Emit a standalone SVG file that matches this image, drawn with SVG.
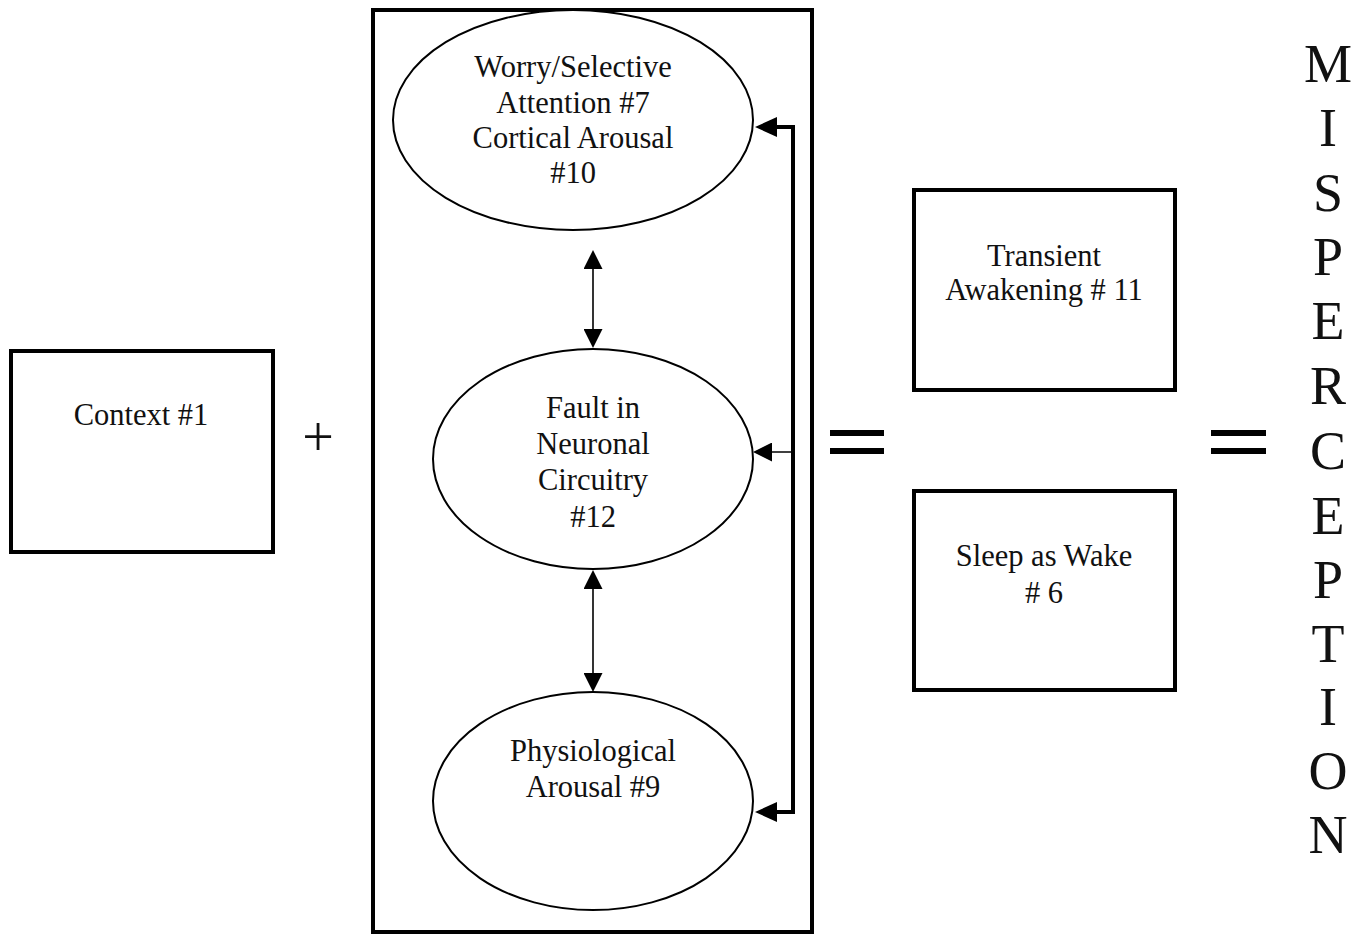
<svg xmlns="http://www.w3.org/2000/svg" width="1366" height="935" viewBox="0 0 1366 935">
<style>
text{font-family:"Liberation Serif","Times New Roman",serif;fill:#111;text-anchor:middle}
.lbl{font-size:30.5px}
.big{font-size:54px}
.box{fill:#fff;stroke:#000;stroke-width:4}
.ell{fill:#fff;stroke:#000;stroke-width:2}
.thin{fill:none;stroke:#000;stroke-width:1.6}
.thick{fill:none;stroke:#000;stroke-width:4}
</style>
<defs>
<marker id="h" markerUnits="userSpaceOnUse" viewBox="0 0 19 19" refX="14" refY="9.5" markerWidth="19" markerHeight="19" orient="auto"><path d="M0,0 L19,9.5 L0,19 Z" fill="#000"/></marker>
<marker id="hs" markerUnits="userSpaceOnUse" viewBox="0 0 19 19" refX="5" refY="9.5" markerWidth="19" markerHeight="19" orient="auto"><path d="M19,0 L0,9.5 L19,19 Z" fill="#000"/></marker>
<marker id="H" markerUnits="userSpaceOnUse" viewBox="0 0 22 20" refX="12" refY="10" markerWidth="22" markerHeight="20" orient="auto"><path d="M0,0 L22,10 L0,20 Z" fill="#000"/></marker>
</defs>
<rect width="1366" height="935" fill="#fff"/>
<g id="context"><rect class="box" x="11" y="351" width="262" height="201"/><text class="lbl" x="141" y="425">Context #1</text></g>
<g id="plus"><text x="318" y="456" style="font-size:56px">+</text></g>
<g id="group"><rect class="box" x="373" y="10" width="439" height="922"/></g>
<g id="worry"><ellipse class="ell" cx="573" cy="120" rx="180" ry="110"/>
<text class="lbl" x="573" y="77">Worry/Selective</text><text class="lbl" x="573" y="113">Attention #7</text><text class="lbl" x="573" y="148">Cortical Arousal</text><text class="lbl" x="573" y="183">#10</text></g>
<g id="fault"><ellipse class="ell" cx="593" cy="459" rx="160" ry="110"/>
<text class="lbl" x="593" y="418">Fault in</text><text class="lbl" x="593" y="454">Neuronal</text><text class="lbl" x="593" y="490">Circuitry</text><text class="lbl" x="593" y="527">#12</text></g>
<g id="physio"><ellipse class="ell" cx="593" cy="801" rx="160" ry="109"/>
<text class="lbl" x="593" y="761">Physiological</text><text class="lbl" x="593" y="797">Arousal #9</text></g>
<g id="connectors">
<path class="thin" d="M593 255 V343" marker-start="url(#hs)" marker-end="url(#h)"/>
<path class="thin" d="M593 575 V687" marker-start="url(#hs)" marker-end="url(#h)"/>
<path class="thick" d="M793 812 V127 H765" marker-end="url(#H)"/>
<path class="thick" d="M795 812 H765" marker-end="url(#H)"/>
<path class="thin" d="M793 452 H758" marker-end="url(#h)"/>
</g>
<g id="eq1"><rect x="830" y="430" width="54" height="6" fill="#000"/><rect x="830" y="448" width="54" height="6" fill="#000"/></g>
<g id="transient"><rect class="box" x="914" y="190" width="261" height="200"/><text class="lbl" x="1044" y="266">Transient</text><text class="lbl" x="1044" y="300">Awakening # 11</text></g>
<g id="sleep"><rect class="box" x="914" y="491" width="261" height="199"/><text class="lbl" x="1044" y="566">Sleep as Wake</text><text class="lbl" x="1044" y="603"># 6</text></g>
<g id="eq2"><rect x="1211" y="430" width="55" height="6" fill="#000"/><rect x="1211" y="448" width="55" height="6" fill="#000"/></g>
<g id="misperception">
<text class="big" x="1328" y="82">M</text><text class="big" x="1328" y="146">I</text><text class="big" x="1328" y="211">S</text><text class="big" x="1328" y="275">P</text><text class="big" x="1328" y="339">E</text><text class="big" x="1328" y="404">R</text><text class="big" x="1328" y="469">C</text><text class="big" x="1328" y="534">E</text><text class="big" x="1328" y="598">P</text><text class="big" x="1328" y="662">T</text><text class="big" x="1328" y="725">I</text><text class="big" x="1328" y="789">O</text><text class="big" x="1328" y="853">N</text>
</g>
</svg>
